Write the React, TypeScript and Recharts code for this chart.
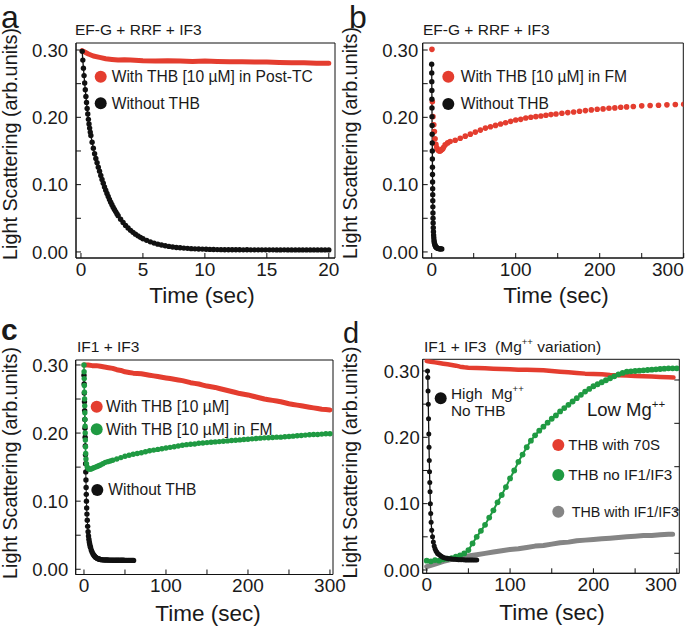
import { LineChart, Line, XAxis, YAxis, ReferenceArea, ReferenceLine } from 'recharts';

type Pt = [number, number];

const W = 685;
const H = 628;
const FONT = '"Liberation Sans", Arial, Helvetica, sans-serif';
const INK = '#1a1a1a';
const RED = '#e43d2f';
const GREEN = '#1f9a42';
const GRAY = '#858585';
const BLACK = '#111111';

// ---- axis ticks ----
const yTicks = [0, 0.05, 0.1, 0.15, 0.2, 0.25, 0.3];
const aTimeTicks = [0, 5, 10, 15, 20];
const longTimeTicks = [0, 50, 100, 150, 200, 250, 300];
const dRightTicks = [0.0252, 0.0905, 0.1557, 0.2211, 0.2864];

// ---- panel a : EF-G + RRF + IF3 ----
const aWithTHB: Pt[] = [
  [0.1, 0.299], [0.3, 0.297], [0.6, 0.294], [1, 0.291], [1.5, 0.289], [2, 0.287], [2.5, 0.286],
  [3, 0.285], [3.5, 0.2855], [4, 0.285], [5, 0.284], [6, 0.2835], [7, 0.284], [8, 0.2835],
  [9, 0.283], [10, 0.2835], [11, 0.283], [12, 0.2825], [13, 0.2825], [14, 0.282], [15, 0.282],
  [16, 0.2815], [17, 0.281], [18, 0.281], [19, 0.2805], [20, 0.2805],
];
const aWithoutTHB: Pt[] = [
  [0.1, 0.298], [0.15, 0.285], [0.2, 0.273], [0.25, 0.262], [0.3, 0.251], [0.35, 0.241], [0.4, 0.231],
  [0.45, 0.222], [0.5, 0.213], [0.55, 0.205], [0.6, 0.197], [0.65, 0.19], [0.7, 0.184], [0.75, 0.178],
  [0.8, 0.173], [0.9, 0.163], [1, 0.154], [1.1, 0.146], [1.2, 0.139], [1.3, 0.1325], [1.4, 0.126],
  [1.5, 0.12], [1.6, 0.1137], [1.7, 0.1077], [1.8, 0.1021], [1.9, 0.0966], [2, 0.0916], [2.1, 0.0869],
  [2.2, 0.0823], [2.3, 0.078], [2.4, 0.074], [2.5, 0.0702], [2.6, 0.0665], [2.7, 0.063], [2.8, 0.0599],
  [2.9, 0.0567], [3, 0.0539], [3.2, 0.0485], [3.4, 0.0437], [3.6, 0.0394], [3.8, 0.0355], [4, 0.0321],
  [4.2, 0.0291], [4.4, 0.0264], [4.6, 0.0239], [4.8, 0.0217], [5, 0.0197], [5.3, 0.0172], [5.6, 0.015],
  [5.9, 0.0131], [6.2, 0.0116], [6.5, 0.0103], [6.8, 0.0092], [7.1, 0.0082], [7.4, 0.0074], [7.7, 0.0067],
  [8, 0.0062], [8.3, 0.0057], [8.6, 0.0053], [8.9, 0.0049], [9.2, 0.0046], [9.5, 0.0044], [9.8, 0.0042],
  [10.1, 0.004], [10.4, 0.0038], [10.7, 0.0036], [11, 0.0035], [11.3, 0.0034], [11.6, 0.0033],
  [11.9, 0.0033], [12.2, 0.0032], [12.5, 0.0032], [12.8, 0.0032], [13.1, 0.0031], [13.4, 0.0032],
  [13.7, 0.0031], [14, 0.0031], [14.3, 0.0031], [14.6, 0.0031], [14.9, 0.0031], [15.2, 0.0031],
  [15.5, 0.0031], [15.8, 0.003], [16.1, 0.003], [16.4, 0.0031], [16.7, 0.003], [17, 0.003],
  [17.3, 0.003], [17.6, 0.003], [17.9, 0.003], [18.2, 0.003], [18.5, 0.003], [18.8, 0.003],
  [19.1, 0.003], [19.4, 0.003], [19.7, 0.003], [20, 0.003],
];

// ---- panel b : EF-G + RRF + IF3, THB in FM ----
const bWithTHB: Pt[] = [
  [0.3, 0.301], [0.8, 0.223], [1.5, 0.201], [2.5, 0.189], [3.2, 0.179], [4, 0.168], [5, 0.16],
  [6, 0.155], [7, 0.152], [8, 0.151], [9, 0.15], [10, 0.15], [11, 0.151], [12, 0.152], [13, 0.153],
  [14, 0.155], [16, 0.159], [19, 0.162], [22, 0.164], [28, 0.166], [34, 0.169], [40, 0.172],
  [46, 0.175], [52, 0.178], [58, 0.181], [64, 0.184], [70, 0.186], [76, 0.188], [82, 0.19],
  [88, 0.192], [94, 0.194], [100, 0.196], [106, 0.197], [112, 0.199], [118, 0.2], [124, 0.201],
  [130, 0.202], [136, 0.203], [142, 0.204], [148, 0.205], [155, 0.206], [162, 0.207], [169, 0.208],
  [176, 0.209], [183, 0.21], [190, 0.211], [197, 0.212], [204, 0.2125], [211, 0.2135], [218, 0.214],
  [225, 0.215], [232, 0.2155], [240, 0.216], [250, 0.217], [260, 0.2175], [270, 0.218],
  [280, 0.2185], [290, 0.219], [300, 0.2195],
];
const bWithoutTHB: Pt[] = [
  [0, 0.279], [0.07, 0.266], [0.14, 0.253], [0.21, 0.24], [0.28, 0.227], [0.35, 0.214], [0.42, 0.201],
  [0.5, 0.188], [0.58, 0.175], [0.66, 0.162], [0.74, 0.15], [0.82, 0.138], [0.9, 0.126], [0.98, 0.115],
  [1.06, 0.104], [1.14, 0.094], [1.22, 0.085], [1.3, 0.076], [1.4, 0.067], [1.5, 0.058], [1.6, 0.05],
  [1.75, 0.043], [1.9, 0.036], [2.1, 0.03], [2.3, 0.025], [2.5, 0.021], [2.8, 0.017], [3.1, 0.014],
  [3.5, 0.012], [4, 0.01], [4.5, 0.0085], [5, 0.0075], [5.5, 0.0068], [6, 0.0062], [6.6, 0.0057],
  [7.2, 0.0053], [8, 0.005], [9, 0.0048], [10, 0.0046], [11, 0.0045], [12, 0.0045],
];

// ---- panel c : IF1 + IF3 ----
const cWithTHB: Pt[] = [
  [0, 0.3], [5, 0.3], [10, 0.299], [15, 0.299], [20, 0.298], [25, 0.297], [30, 0.296], [35, 0.295],
  [40, 0.293], [45, 0.292], [50, 0.29], [55, 0.289], [60, 0.288], [65, 0.2875], [70, 0.287],
  [75, 0.286], [80, 0.285], [85, 0.284], [90, 0.283], [95, 0.282], [100, 0.281], [105, 0.28],
  [110, 0.279], [115, 0.278], [120, 0.277], [125, 0.2755], [130, 0.274], [135, 0.273], [140, 0.272],
  [145, 0.2705], [150, 0.269], [155, 0.268], [160, 0.267], [165, 0.2655], [170, 0.264],
  [175, 0.2625], [180, 0.261], [185, 0.2595], [190, 0.258], [195, 0.257], [200, 0.256],
  [205, 0.2545], [210, 0.253], [215, 0.2515], [220, 0.25], [225, 0.249], [230, 0.248], [235, 0.247],
  [240, 0.246], [245, 0.2445], [250, 0.243], [255, 0.242], [260, 0.241], [265, 0.24], [270, 0.239],
  [275, 0.238], [280, 0.237], [285, 0.236], [290, 0.235], [295, 0.2345], [300, 0.234],
];
const cWithTHBinFM: Pt[] = [
  [0, 0.3], [0.15, 0.29], [0.3, 0.28], [0.45, 0.27], [0.6, 0.26], [0.75, 0.25], [0.9, 0.24],
  [1.05, 0.23], [1.2, 0.22], [1.35, 0.21], [1.5, 0.2], [1.7, 0.19], [1.9, 0.18], [2.1, 0.17],
  [2.4, 0.162], [3, 0.155], [4, 0.15], [5, 0.148], [6.5, 0.147], [8, 0.147], [10, 0.148],
  [12, 0.149], [14, 0.15], [16, 0.151], [18, 0.152], [20, 0.153], [23, 0.155], [26, 0.157],
  [29, 0.158], [32, 0.159], [35, 0.16], [40, 0.162], [45, 0.164], [50, 0.166], [55, 0.1675],
  [60, 0.169], [65, 0.17], [70, 0.171], [75, 0.1725], [80, 0.174], [85, 0.175], [90, 0.176],
  [95, 0.177], [100, 0.178], [105, 0.179], [110, 0.18], [115, 0.181], [120, 0.182], [125, 0.183],
  [130, 0.1835], [135, 0.184], [140, 0.185], [145, 0.1855], [150, 0.186], [155, 0.1865],
  [160, 0.187], [165, 0.1875], [170, 0.188], [175, 0.1885], [180, 0.189], [185, 0.1895],
  [190, 0.19], [195, 0.1905], [200, 0.191], [205, 0.1915], [210, 0.192], [215, 0.1925],
  [220, 0.193], [225, 0.1932], [230, 0.1935], [235, 0.194], [240, 0.194], [245, 0.1945],
  [250, 0.195], [255, 0.1955], [260, 0.196], [265, 0.1965], [270, 0.197], [275, 0.1975],
  [280, 0.198], [285, 0.198], [290, 0.1985], [295, 0.199], [300, 0.199],
];
const cWithoutTHB: Pt[] = [
  [0, 0.285], [0.2, 0.272], [0.4, 0.259], [0.6, 0.246], [0.8, 0.233], [1, 0.22], [1.2, 0.207],
  [1.4, 0.194], [1.6, 0.181], [1.8, 0.168], [2, 0.155], [2.2, 0.143], [2.4, 0.131], [2.6, 0.12],
  [2.8, 0.11], [3, 0.1], [3.3, 0.09], [3.6, 0.081], [4, 0.072], [4.5, 0.063], [5, 0.055],
  [5.5, 0.049], [6, 0.044], [6.5, 0.04], [7, 0.037], [7.5, 0.034], [8, 0.032], [9, 0.028],
  [10, 0.025], [11, 0.0225], [12, 0.0205], [13, 0.019], [14, 0.0178], [15, 0.0168], [16, 0.016],
  [17, 0.0155], [18, 0.015], [19, 0.0146], [20, 0.0143], [21.5, 0.014], [23, 0.0138], [24.5, 0.0137],
  [26, 0.0136], [27.5, 0.0135], [29, 0.0135], [30.5, 0.0134], [32, 0.0134], [33.5, 0.0134],
  [35, 0.0133], [36.5, 0.0133], [38, 0.0133], [39.5, 0.0133], [41, 0.0132], [42.5, 0.0132],
  [44, 0.0132], [45.5, 0.0132], [47, 0.0132], [48.5, 0.0132], [50, 0.0131], [51.5, 0.0131],
  [53, 0.0131], [54.5, 0.0131], [56, 0.0131], [57.5, 0.0131], [59, 0.0131], [60.5, 0.013],
];

// ---- panel d : IF1 + IF3 (Mg++ variation) ----
const dTHB70S: Pt[] = [
  [0, 0.315], [5, 0.314], [10, 0.313], [15, 0.312], [20, 0.311], [25, 0.31], [30, 0.309],
  [35, 0.308], [40, 0.3065], [45, 0.3055], [50, 0.305], [60, 0.3045], [70, 0.304], [80, 0.3035],
  [90, 0.303], [100, 0.3025], [110, 0.302], [120, 0.302], [130, 0.3015], [140, 0.301], [150, 0.3],
  [160, 0.299], [170, 0.298], [180, 0.297], [190, 0.296], [200, 0.2955], [210, 0.295], [220, 0.294],
  [230, 0.2935], [240, 0.293], [250, 0.2925], [260, 0.292], [270, 0.2915], [280, 0.291],
  [290, 0.2905], [296, 0.29],
];
const dTHBnoIF: Pt[] = [
  [0, 0.014], [5, 0.013], [10, 0.015], [15, 0.014], [20, 0.016], [25, 0.017], [30, 0.018],
  [35, 0.02], [40, 0.022], [45, 0.025], [50, 0.03], [55, 0.04], [60, 0.05], [65, 0.059],
  [70, 0.068], [75, 0.079], [80, 0.09], [85, 0.102], [90, 0.113], [95, 0.125], [100, 0.138],
  [105, 0.15], [110, 0.163], [115, 0.174], [120, 0.185], [125, 0.195], [130, 0.203], [135, 0.21],
  [140, 0.216], [145, 0.222], [150, 0.228], [155, 0.233], [160, 0.239], [165, 0.244], [170, 0.249],
  [175, 0.254], [180, 0.259], [185, 0.264], [190, 0.269], [195, 0.273], [200, 0.277], [205, 0.28],
  [210, 0.283], [215, 0.286], [220, 0.289], [225, 0.292], [230, 0.295], [235, 0.297], [240, 0.299],
  [245, 0.2995], [250, 0.3], [255, 0.3005], [260, 0.301], [265, 0.3015], [270, 0.302],
  [275, 0.3025], [280, 0.303], [285, 0.3035], [290, 0.304], [295, 0.304], [300, 0.304],
];
const dTHBwithIF: Pt[] = [
  [0, 0.005], [5, 0.007], [10, 0.009], [20, 0.013], [30, 0.016], [40, 0.019], [50, 0.021],
  [60, 0.023], [70, 0.025], [80, 0.027], [90, 0.029], [100, 0.031], [110, 0.032], [120, 0.034],
  [130, 0.036], [140, 0.037], [150, 0.039], [160, 0.041], [170, 0.042], [180, 0.044], [190, 0.045],
  [200, 0.046], [210, 0.047], [220, 0.048], [230, 0.049], [240, 0.05], [250, 0.051], [260, 0.052],
  [270, 0.052], [280, 0.053], [290, 0.054], [295, 0.054],
];
const dHighMgNoTHB: Pt[] = [
  [1, 0.3], [1.3, 0.29], [1.6, 0.27], [1.9, 0.25], [2.2, 0.228], [2.5, 0.205], [2.8, 0.185],
  [3.1, 0.165], [3.4, 0.148], [3.7, 0.132], [4, 0.118], [4.4, 0.1], [4.8, 0.085], [5.3, 0.072],
  [6, 0.06], [7, 0.05], [8, 0.042], [9, 0.036], [10, 0.032], [11, 0.029], [12, 0.027], [13, 0.025],
  [14, 0.024], [15.5, 0.0225], [17, 0.021], [18.5, 0.02], [20, 0.019], [22, 0.018], [24, 0.0175],
  [26, 0.017], [28, 0.0168], [30, 0.0165], [32, 0.0162], [34, 0.016], [36, 0.0158], [38, 0.0156],
  [40, 0.0155], [42, 0.0154], [44, 0.0153], [46, 0.0152], [48, 0.0151], [50, 0.015], [52, 0.015],
  [54, 0.015], [56, 0.015], [58, 0.015], [60, 0.015],
];

interface Series {
  data: Pt[];
  color: string;
  width: number;
  r: number;
}

interface PanelDef {
  box: { l: number; r: number; t: number; b: number };
  xDomain: [number, number];
  yDomain: [number, number];
  xTicks: number[];
  xMajor: number;
  yGap: number;
  endLast?: number;
  rightTicks?: number[];
  series: Series[];
}

const panels: PanelDef[] = [
  {
    box: { l: 76, r: 335, t: 43, b: 258 },
    xDomain: [-0.4, 20.5],
    yDomain: [-0.009, 0.3104],
    xTicks: aTimeTicks,
    xMajor: 5,
    yGap: 8,
    series: [
      { data: aWithTHB, color: RED, width: 5, r: 0 },
      { data: aWithoutTHB, color: BLACK, width: 1.3, r: 2.7 },
    ],
  },
  {
    box: { l: 422.7, r: 683.3, t: 43, b: 258 },
    xDomain: [-10.7, 299.5],
    yDomain: [-0.009, 0.3104],
    xTicks: longTimeTicks,
    xMajor: 100,
    yGap: 4.5,
    endLast: 300,
    series: [
      { data: bWithTHB, color: RED, width: 0, r: 2.8 },
      { data: bWithoutTHB, color: BLACK, width: 1.3, r: 2.7 },
    ],
  },
  {
    box: { l: 75.7, r: 333, t: 360, b: 574.5 },
    xDomain: [-10.1, 303.7],
    yDomain: [-0.0077, 0.3073],
    xTicks: longTimeTicks,
    xMajor: 100,
    yGap: 7.5,
    series: [
      { data: cWithTHB, color: RED, width: 5, r: 0 },
      { data: cWithoutTHB, color: BLACK, width: 1, r: 2.7 },
      { data: cWithTHBinFM, color: GREEN, width: 1.5, r: 2.7 },
    ],
  },
  {
    box: { l: 422.7, r: 679.3, t: 359.3, b: 573.3 },
    xDomain: [-4.8, 303],
    yDomain: [-0.005, 0.3176],
    xTicks: longTimeTicks,
    xMajor: 100,
    yGap: 3,
    endLast: 300,
    rightTicks: dRightTicks,
    series: [
      { data: dTHB70S, color: RED, width: 4.5, r: 0 },
      { data: dTHBwithIF, color: GRAY, width: 5, r: 0 },
      { data: dTHBnoIF, color: GREEN, width: 2, r: 2.9 },
      { data: dHighMgNoTHB, color: BLACK, width: 1.3, r: 2.5 },
    ],
  },
];

const YW = 60;
const XH = 30;
const TICK = 5;

const makeXTick = (major: number, endLast?: number) => (props: any) => {
  const { x, y, payload } = props;
  const v = payload.value as number;
  if (Math.abs(v / major - Math.round(v / major)) > 1e-6) return <g />;
  return (
    <text
      x={x}
      y={y}
      dy="0.72em"
      textAnchor={endLast !== undefined && v === endLast ? 'end' : 'middle'}
      fontSize={19}
      fontFamily={FONT}
      fill={INK}
    >
      {v}
    </text>
  );
};

const yLabel = (v: number) => (Math.round(v * 100) % 10 === 0 ? v.toFixed(2) : '');

const Panel = ({ p }: { p: PanelDef }) => {
  const { box } = p;
  const [x0, x1] = p.xDomain;
  const [y0, y1] = p.yDomain;
  // data units per pixel along x, used for the inward right-hand tick length
  const xPerPx = (x1 - x0) / (box.r - box.l);
  return (
    <LineChart
      width={W}
      height={H}
      style={{ position: 'absolute', left: 0, top: 0 }}
      margin={{ top: box.t, right: W - box.r, bottom: H - box.b - XH, left: box.l - YW }}
    >
      <XAxis
        xAxisId="x"
        dataKey="x"
        type="number"
        domain={p.xDomain}
        allowDataOverflow
        ticks={p.xTicks}
        interval={0}
        height={XH}
        tickSize={-TICK}
        tickMargin={TICK + 4}
        axisLine={{ stroke: BLACK }}
        tickLine={{ stroke: BLACK }}
        tick={makeXTick(p.xMajor, p.endLast)}
      />
      <YAxis
        yAxisId="y"
        type="number"
        domain={p.yDomain}
        allowDataOverflow
        ticks={yTicks}
        interval={0}
        width={YW}
        tickSize={-TICK}
        tickMargin={TICK + p.yGap}
        tickFormatter={yLabel}
        axisLine={{ stroke: BLACK }}
        tickLine={{ stroke: BLACK }}
        tick={{ fontSize: 18.5, fill: INK, fontFamily: FONT }}
      />
      <ReferenceArea
        xAxisId="x"
        yAxisId="y"
        x1={x0}
        x2={x1}
        y1={y0}
        y2={y1}
        fill="none"
        stroke={BLACK}
        strokeWidth={1}
        ifOverflow="visible"
      />
      {(p.rightTicks ?? []).map((v) => (
        <ReferenceLine
          key={v}
          xAxisId="x"
          yAxisId="y"
          segment={[
            { x: x1, y: v },
            { x: x1 - TICK * xPerPx, y: v },
          ]}
          stroke={BLACK}
          strokeWidth={1}
          ifOverflow="visible"
        />
      ))}
      {p.series.map((s, i) => (
        <Line
          key={i}
          xAxisId="x"
          yAxisId="y"
          data={s.data.map(([x, y]) => ({ x, y }))}
          dataKey="y"
          type="linear"
          stroke={s.width > 0 ? s.color : 'none'}
          strokeWidth={s.width}
          strokeLinejoin="round"
          strokeLinecap="round"
          dot={s.r > 0 ? { r: s.r, fill: s.color, stroke: 'none' } : false}
          activeDot={false}
          isAnimationActive={false}
        />
      ))}
    </LineChart>
  );
};

const sup = (txt: string, size: number) => (
  <tspan dy={-0.45 * size} fontSize={size * 0.62}>
    {txt}
  </tspan>
);

export default function App() {
  return (
    <div style={{ position: 'absolute', left: 0, top: 0, width: W, height: H, background: '#fff' }}>
      {panels.map((p, i) => (
        <Panel key={i} p={p} />
      ))}
      <svg
        width={W}
        height={H}
        style={{ position: 'absolute', left: 0, top: 0 }}
        fontFamily={FONT}
        fill={INK}
      >
        {/* panel letters */}
        <text x={1} y={28} fontSize={32}>a</text>
        <text x={349} y={28} fontSize={32}>b</text>
        <text x={1} y={340} fontSize={30} fontWeight="bold">c</text>
        <text x={343} y={343} fontSize={29}>d</text>

        {/* panel titles */}
        <text x={75} y={35} fontSize={15.5}>EF-G + RRF + IF3</text>
        <text x={423} y={35} fontSize={15.5}>EF-G + RRF + IF3</text>
        <text x={77} y={351.5} fontSize={15.5}>IF1 + IF3</text>
        <text x={424} y={351.5} fontSize={15.5} style={{ whiteSpace: 'pre' }}>
          {'IF1 + IF3  (Mg'}
          {sup('++', 15.5)}
          <tspan dy={0.45 * 15.5}>{' variation)'}</tspan>
        </text>

        {/* axis titles */}
        {[
          { x: 202, y: 303 },
          { x: 556, y: 303 },
          { x: 208, y: 621 },
          { x: 552, y: 619.5 },
        ].map((t, i) => (
          <text key={`xt${i}`} x={t.x} y={t.y} fontSize={22.5} textAnchor="middle">
            Time (sec)
          </text>
        ))}
        {[
          { x: 17, y: 144 },
          { x: 357, y: 143 },
          { x: 17, y: 463 },
          { x: 357, y: 462.5 },
        ].map((t, i) => (
          <text
            key={`yt${i}`}
            transform={`translate(${t.x},${t.y}) rotate(-90)`}
            fontSize={19.8}
            textAnchor="middle"
          >
            Light Scattering (arb.units)
          </text>
        ))}

        {/* legend a */}
        <circle cx={100.7} cy={76.7} r={6} fill={RED} />
        <text x={111.7} y={82} fontSize={15.6}>With THB [10 µM] in Post-TC</text>
        <circle cx={100.7} cy={103.3} r={6} fill={BLACK} />
        <text x={111.7} y={108.6} fontSize={15.6}>Without THB</text>

        {/* legend b */}
        <circle cx={448.3} cy={76.7} r={6} fill={RED} />
        <text x={460.7} y={82} fontSize={15.6}>With THB [10 µM] in FM</text>
        <circle cx={448.3} cy={104} r={6} fill={BLACK} />
        <text x={460.7} y={109.3} fontSize={15.6}>Without THB</text>

        {/* legend c */}
        <circle cx={96.7} cy={406.7} r={6} fill={RED} />
        <text x={106} y={412} fontSize={15.6}>With THB [10 µM]</text>
        <circle cx={96.7} cy={429.3} r={6} fill={GREEN} />
        <text x={106} y={434.6} fontSize={15.6}>With THB [10 µM] in FM</text>
        <circle cx={97.3} cy={490} r={6} fill={BLACK} />
        <text x={108.3} y={495.3} fontSize={15.6}>Without THB</text>

        {/* legend d */}
        <circle cx={440.7} cy={398.3} r={6} fill={BLACK} />
        <text x={451} y={399} fontSize={15.4} style={{ whiteSpace: 'pre' }}>
          {'High  Mg'}
          {sup('++', 15.4)}
        </text>
        <text x={451} y={416} fontSize={15.4}>No THB</text>
        <text x={587} y={416} fontSize={18.5}>
          {'Low Mg'}
          {sup('++', 18.5)}
        </text>
        <circle cx={558.3} cy={445} r={6} fill={RED} />
        <text x={568.3} y={450.3} fontSize={15}>THB with 70S</text>
        <circle cx={558.3} cy={475} r={6} fill={GREEN} />
        <text x={568.3} y={480.3} fontSize={15.2}>THB no IF1/IF3</text>
        <circle cx={558.3} cy={511.7} r={6} fill={GRAY} />
        <text x={571.7} y={517} fontSize={14.3}>THB with IF1/IF3</text>
      </svg>
    </div>
  );
}
